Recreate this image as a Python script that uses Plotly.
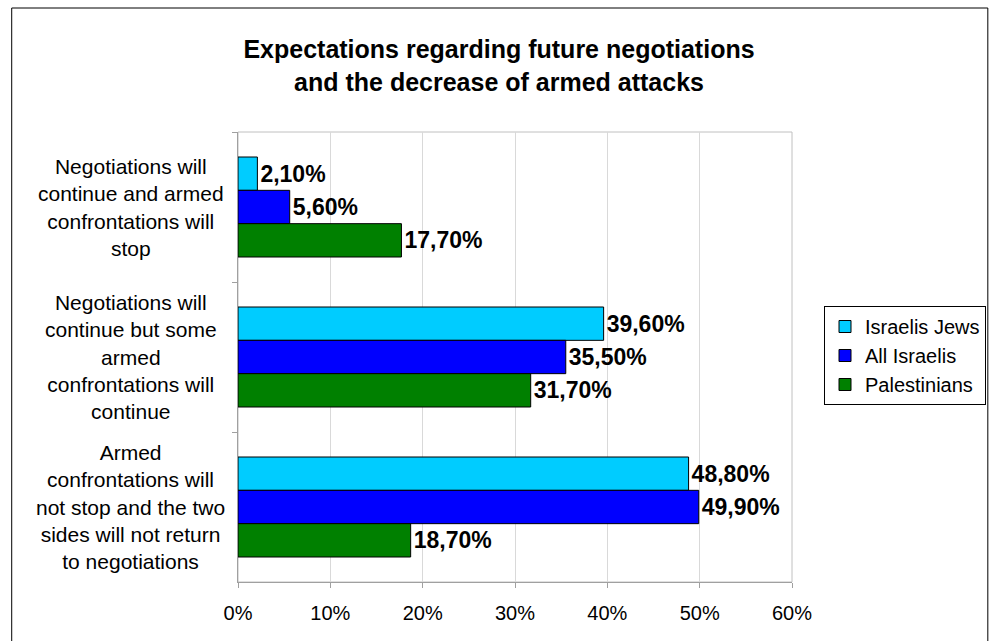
import plotly.graph_objects as go

categories = [
    "Negotiations will<br>continue and armed<br>confrontations will<br>stop",
    "Negotiations will<br>continue but some<br>armed<br>confrontations will<br>continue",
    "Armed<br>confrontations will<br>not stop and the two<br>sides will not return<br>to negotiations",
]
israelis_jews = [2.1, 39.6, 48.8]
all_israelis = [5.6, 35.5, 49.9]
palestinians = [17.7, 31.7, 18.7]

series = [
    ("Israelis Jews", israelis_jews, "#00CCFF"),
    ("All Israelis", all_israelis, "#0000FF"),
    ("Palestinians", palestinians, "#008000"),
]

FONT = "Liberation Sans, Arial, sans-serif"


def pct_label(v):
    return f"{v:.2f}".replace(".", ",") + "%"


fig = go.Figure()
for name, vals, color in series:
    fig.add_trace(go.Bar(
        name=name,
        y=categories,
        x=vals,
        orientation="h",
        marker=dict(color=color, line=dict(color="#000000", width=1)),
        text=[pct_label(v) for v in vals],
        textposition="outside",
        constraintext="none",
        cliponaxis=False,
        textfont=dict(family=FONT, size=23, color="#000000", weight="bold"),
    ))

# category labels, centred line by line to the left of the plot
for cat in categories:
    fig.add_annotation(
        x=-0.194, xref="paper", y=cat, yref="y",
        text=cat, showarrow=False, align="center",
        xanchor="center", yanchor="middle",
        font=dict(family=FONT, size=21, color="#000000"),
    )

L, R, T, B = 237.5, 199, 132, 59
W, H = 991, 641
pw, ph = W - L - R, H - T - B

def px_x(p):
    return (p - L) / pw

def px_y(p):
    return (H - B - p) / ph

shapes = [
    # plot-area frame
    dict(type="rect", xref="paper", yref="paper", x0=0, x1=1, y0=0, y1=1,
         line=dict(color="#C0C0C0", width=1), layer="below"),
    # chart-area frame
    dict(type="rect", xref="paper", yref="paper",
         x0=px_x(11), x1=px_x(988), y0=px_y(660), y1=px_y(8),
         line=dict(color="#000000", width=1), layer="above"),
]

fig.update_layout(
    width=W, height=H,
    margin=dict(l=L, r=R, t=T, b=B, pad=0, autoexpand=False),
    paper_bgcolor="#FFFFFF", plot_bgcolor="#FFFFFF",
    barmode="group", bargap=1/3, bargroupgap=0,
    title=dict(
        text="Expectations regarding future negotiations<br>and the decrease of armed attacks",
        x=499 / W, xanchor="center", xref="container",
        y=(H - 58) / H, yanchor="top", yref="container",
        font=dict(family=FONT, size=25, color="#000000", weight="bold"),
    ),
    showlegend=True,
    legend=dict(
        x=824 / W, xanchor="left", xref="container",
        y=(H - 306) / H, yanchor="top", yref="container",
        traceorder="normal",
        bordercolor="#000000", borderwidth=1, bgcolor="#FFFFFF",
        font=dict(family=FONT, size=20, color="#000000"),
        itemwidth=30,
    ),
    xaxis=dict(
        range=[0, 60], dtick=10, ticksuffix="%",
        showgrid=True, gridcolor="#D9D9D9", gridwidth=1,
        zeroline=False,
        showline=True, linecolor="#A0A0A0", linewidth=1,
        ticks="outside", ticklen=5, tickcolor="#A0A0A0",
        tickfont=dict(family=FONT, size=20, color="#000000"),
        ticklabelstandoff=8,
    ),
    yaxis=dict(
        categoryorder="array", categoryarray=categories,
        autorange="reversed",
        showticklabels=False, showgrid=False, zeroline=False,
        showline=True, linecolor="#A0A0A0", linewidth=1,
        ticks="outside", tickson="boundaries", ticklen=5, tickcolor="#A0A0A0",
    ),
    shapes=shapes,
)

fig.write_html("out.html")
